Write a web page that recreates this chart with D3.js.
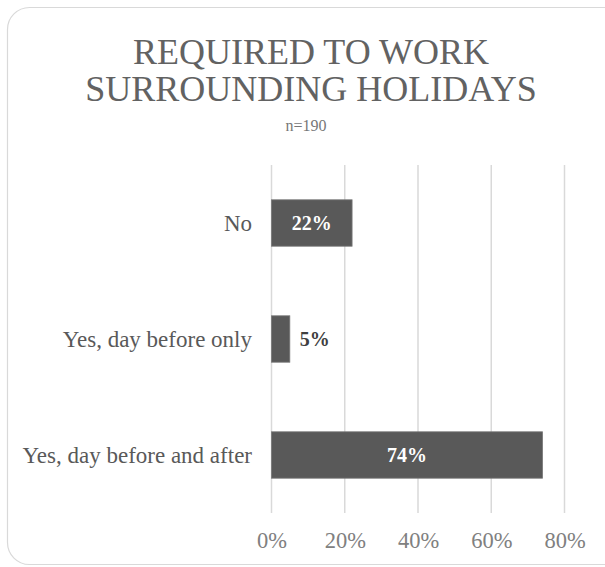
<!DOCTYPE html>
<html>
<head>
<meta charset="utf-8">
<script src="https://cdn.jsdelivr.net/npm/d3@7"></script>
<style>
  html, body { margin: 0; padding: 0; background: #fff; }
</style>
</head>
<body>
<div id="chart"></div>
<script>
const categories = ["No", "Yes, day before only", "Yes, day before and after"]
const values = [22, 5, 74]
const labels = ["22%", "5%", "74%"]
const ticks = [0, 20, 40, 60, 80]
const titleLines = ["REQUIRED TO WORK", "SURROUNDING HOLIDAYS"]
const subtitle = "n=190"

const width = 605
const height = 567
const FONT = "'Liberation Serif', 'DejaVu Serif', serif"
const CBAR = "#595959"
const CGRID = "#d9d9d9"

const svg = d3.select("#chart")
    .append("svg")
    .attr("width", width)
    .attr("height", height)
    .attr("viewBox", [0, 0, width, height])

// frame
svg.append("rect")
    .attr("x", 7.5)
    .attr("y", 7.5)
    .attr("width", 620)
    .attr("height", 557)
    .attr("rx", 22)
    .attr("fill", "#fff")
    .attr("stroke", CGRID)
    .attr("stroke-width", 1.2)

// title
svg.append("g")
    .selectAll("text")
    .data(titleLines)
    .join("text")
    .attr("x", 311)
    .attr("y", (d, i) => 64 + i * 37)
    .attr("text-anchor", "middle")
    .attr("font-family", FONT)
    .attr("font-size", 36)
    .attr("fill", "#626262")
    .text(d => d)

svg.append("text")
    .attr("x", 306)
    .attr("y", 131)
    .attr("text-anchor", "middle")
    .attr("font-family", FONT)
    .attr("font-size", 16)
    .attr("fill", "#777")
    .text(subtitle)

const x = d3.scaleLinear().domain([0, 80]).range([271.5, 564.5])
const y = d3.scaleBand().domain(categories).range([165, 513])
    .paddingInner(0.6).paddingOuter(0.3)

// grid
svg.append("g")
    .selectAll("line")
    .data(ticks)
    .join("line")
    .attr("x1", d => x(d))
    .attr("x2", d => x(d))
    .attr("y1", 165)
    .attr("y2", 513)
    .attr("stroke", CGRID)
    .attr("stroke-width", 1.5)

// x axis labels
const xAxis = svg.append("g")
    .attr("transform", "translate(0,548)")
    .call(d3.axisBottom(x).tickValues(ticks).tickFormat(d => d + "%").tickSize(0).tickPadding(0))
xAxis.select(".domain").remove()
xAxis.selectAll("text")
    .attr("dy", 0)
    .attr("font-family", FONT)
    .attr("font-size", 22.5)
    .attr("fill", "#808080")

// category labels
svg.append("g")
    .selectAll("text")
    .data(categories)
    .join("text")
    .attr("x", 252)
    .attr("y", d => y(d) + y.bandwidth() / 2)
    .attr("dy", "0.35em")
    .attr("text-anchor", "end")
    .attr("font-family", FONT)
    .attr("font-size", 23)
    .attr("fill", "#595959")
    .text(d => d)

// bars
svg.append("g")
    .selectAll("rect")
    .data(values)
    .join("rect")
    .attr("x", x(0))
    .attr("y", (d, i) => y(categories[i]))
    .attr("width", d => x(d) - x(0))
    .attr("height", y.bandwidth())
    .attr("fill", CBAR)
    .attr("stroke", "#777")
    .attr("stroke-width", 0.8)

// value labels: inside if the bar is wide enough, else just past the end
svg.append("g")
    .selectAll("text")
    .data(values)
    .join("text")
    .attr("x", d => d > 10 ? (x(0) + x(d)) / 2 : x(d) + 10)
    .attr("y", (d, i) => y(categories[i]) + y.bandwidth() / 2)
    .attr("dy", "0.35em")
    .attr("text-anchor", d => d > 10 ? "middle" : "start")
    .attr("font-family", FONT)
    .attr("font-size", 20)
    .attr("font-weight", "bold")
    .attr("fill", d => d > 10 ? "#fff" : "#404040")
    .text((d, i) => labels[i])
</script>
</body>
</html>
